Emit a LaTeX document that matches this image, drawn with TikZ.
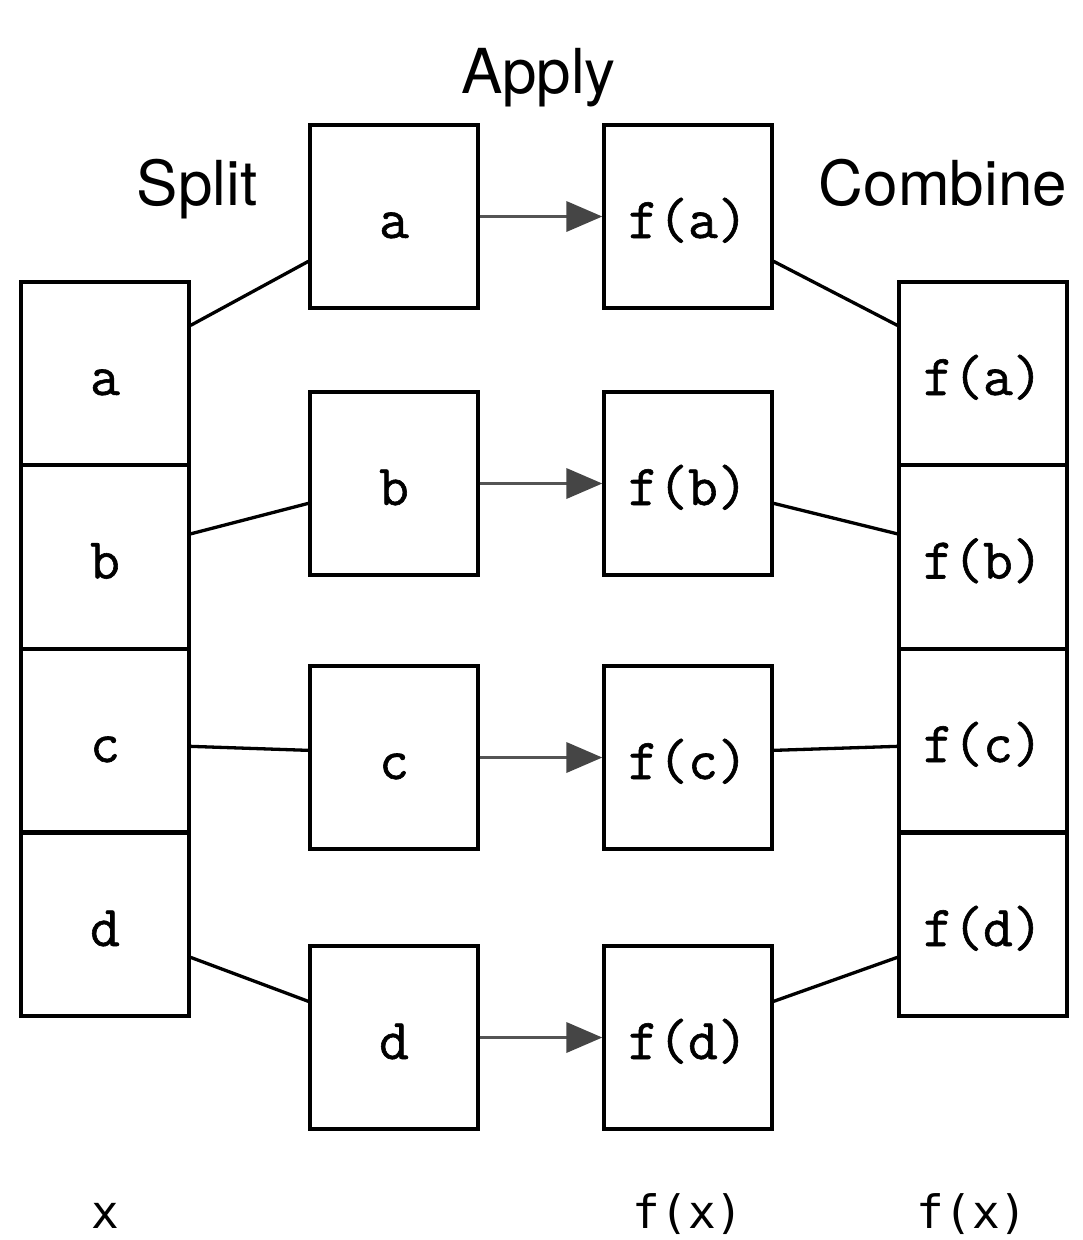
\documentclass[tikz,border=0pt]{standalone}
\usepackage{fontspec}
\setmainfont{TeX Gyre Heros}
\newfontfamily\sansmono{DejaVu Sans Mono}
\newfontfamily\cour[FakeBold=1.0]{Latin Modern Mono}
\usetikzlibrary{arrows.meta,calc}
\begin{document}
\begin{tikzpicture}[x=1pt,y=-1pt,
  box/.style={draw, line width=3.3pt, minimum width=168pt, minimum height=183pt,
    inner sep=0pt, text height=43pt, text depth=0pt},
  lettr/.style={box, font=\cour\fontsize{58}{62}\selectfont},
  fnlab/.style={box, font=\cour\fontsize{58}{62}\selectfont},
  title/.style={anchor=base, font=\fontsize{62}{66}\selectfont},
  bottomlab/.style={anchor=base, font=\sansmono\fontsize{46}{50}\selectfont},
  link/.style={line width=3.3pt},
  arr/.style={line width=3.6pt, draw=black!67,
    -{Triangle[length=36pt,width=30pt,color=black!73,fill=black!73]}}
]
\useasboundingbox (0,0) rectangle (1083,1240);
% left column
\node[lettr] (La) at (105,373.5) {a};
\node[lettr] (Lb) at (105,557) {b};
\node[lettr] (Lc) at (105,740.5) {c};
\node[lettr] (Ld) at (105,924.5) {d};
% middle left
\node[lettr] (Ma) at (394,216.5) {a};
\node[lettr] (Mb) at (394,483.5) {b};
\node[lettr] (Mc) at (394,757.5) {c};
\node[lettr] (Md) at (394,1037.5) {d};
% middle right
\node[fnlab] (Fa) at (688,216.5) {f(a)};
\node[fnlab] (Fb) at (688,483.5) {f(b)};
\node[fnlab] (Fc) at (688,757.5) {f(c)};
\node[fnlab] (Fd) at (688,1037.5) {f(d)};
% right column
\node[fnlab] (Ra) at (983,373.5) {f(a)};
\node[fnlab] (Rb) at (983,557) {f(b)};
\node[fnlab] (Rc) at (983,740.5) {f(c)};
\node[fnlab] (Rd) at (983,924.5) {f(d)};
% titles
\node[title] (apply) at (538.5,93) {Apply};
\node[title] (split) at (197,205) {Split};
\node[title] (combine) at (943,205) {Combine};
% bottom labels
\node[bottomlab] (bx) at (105,1228) {x};
\node[bottomlab] (bfx) at (688,1228) {f(x)};
\node[bottomlab] (bfx2) at (972,1228) {f(x)};
% split connectors
\draw[link] ($(La.north east)+(0,45)$) -- ($(Ma.north west)+(0,138)$);
\draw[link] ($(Lb.north east)+(0,70)$) -- ($(Mb.north west)+(0,113)$);
\draw[link] ($(Lc.north east)+(0,99)$) -- ($(Mc.north west)+(0,86)$);
\draw[link] ($(Ld.north east)+(0,126)$) -- ($(Md.north west)+(0,57)$);
% combine connectors
\draw[link] ($(Fa.north east)+(0,138)$) -- ($(Ra.north west)+(0,45)$);
\draw[link] ($(Fb.north east)+(0,113)$) -- ($(Rb.north west)+(0,70)$);
\draw[link] ($(Fc.north east)+(0,86)$) -- ($(Rc.north west)+(0,99)$);
\draw[link] ($(Fd.north east)+(0,57)$) -- ($(Rd.north west)+(0,126)$);
% apply arrows
\draw[arr] (Ma.east) -- (Fa.west);
\draw[arr] (Mb.east) -- (Fb.west);
\draw[arr] (Mc.east) -- (Fc.west);
\draw[arr] (Md.east) -- (Fd.west);
\end{tikzpicture}
\end{document}
